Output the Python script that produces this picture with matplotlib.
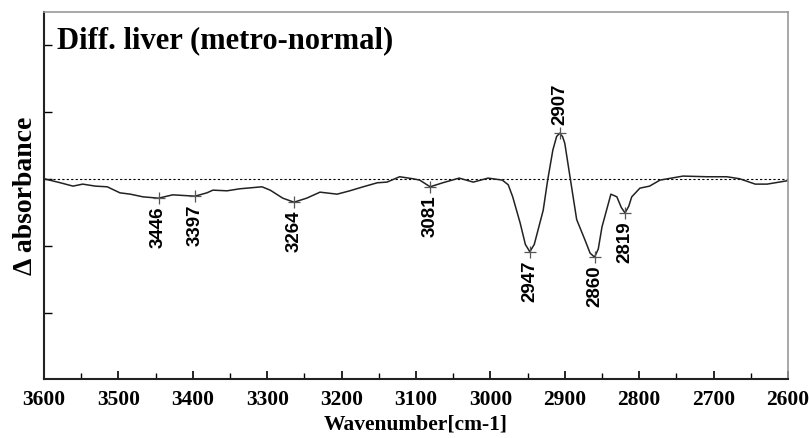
import numpy as np
import matplotlib.pyplot as plt

# spectrum (wavenumber, delta absorbance)
wavenumber = [3600, 3578, 3561, 3548, 3531, 3515, 3498, 3484, 3467, 3446,
              3427, 3397, 3381, 3373, 3354, 3337, 3307, 3296, 3279, 3264,
              3247, 3229, 3206, 3189, 3171, 3152, 3139, 3122, 3104, 3095,
              3081, 3064, 3042, 3023, 3003, 2984, 2976, 2970, 2960, 2953,
              2947, 2941, 2937, 2929, 2923, 2916, 2911, 2907, 2903, 2900,
              2893, 2884, 2873, 2866, 2860, 2855, 2850, 2838, 2830, 2824,
              2819, 2814, 2810, 2799, 2786, 2772, 2741, 2709, 2682, 2665,
              2644, 2628, 2601]
absorbance = [0.01, -0.05, -0.10, -0.07, -0.10, -0.11, -0.20, -0.22, -0.26, -0.28,
              -0.23, -0.25, -0.20, -0.16, -0.17, -0.14, -0.11, -0.16, -0.28, -0.34,
              -0.28, -0.19, -0.22, -0.17, -0.11, -0.05, -0.04, 0.04, 0.01, -0.01,
              -0.11, -0.05, 0.02, -0.04, 0.02, -0.01, -0.08, -0.26, -0.65, -0.97,
              -1.08, -0.97, -0.80, -0.46, -0.01, 0.44, 0.64, 0.69, 0.64, 0.54,
              0.04, -0.60, -0.90, -1.10, -1.16, -1.04, -0.71, -0.22, -0.26, -0.42,
              -0.50, -0.40, -0.26, -0.13, -0.10, -0.01, 0.05, 0.04, 0.04, 0.01,
              -0.07, -0.07, -0.02]

peak_wn = [3446, 3397, 3264, 3081, 2947, 2907, 2860, 2819]
peak_val = [-0.28, -0.25, -0.34, -0.11, -1.08, 0.69, -1.16, -0.50]

serif = 'Liberation Serif'

fig = plt.figure(figsize=(8.09, 4.38), dpi=100)
ax = fig.add_axes([0.0544, 0.1347, 0.9196, 0.8379])

ax.axhline(0, color='black', lw=0.8, ls=(0, (2, 2)))
ax.plot(wavenumber, absorbance, color='#222222', lw=1.1)

# peak markers and labels
ax.plot(peak_wn, peak_val, ls='none', marker='+', ms=8, mew=0.9, color='#555555')
for wn, v in zip(peak_wn, peak_val):
    up = v > 0
    ax.annotate(str(wn), (wn, v), xytext=(0, 6 if up else -6),
                textcoords='offset points', rotation=90,
                ha='center', va='bottom' if up else 'top',
                fontsize=13.5, fontweight='bold',
                family=['Liberation Sans Narrow', 'Liberation Sans'])

ax.set_xlim(3600, 2600)
ax.set_ylim(-2.98, 2.5)
ax.set_xticks(np.arange(3600, 2599, -100))
ax.set_xticks(np.arange(3550, 2600, -100), minor=True)
ax.set_yticks([-2, -1, 0, 1, 2])
ax.set_yticklabels([])
ax.tick_params(axis='x', which='major', direction='in', length=6, width=1.2, pad=8)
ax.tick_params(axis='x', which='minor', direction='in', length=4, width=1.0)
ax.tick_params(axis='y', direction='in', length=6, width=1.0)
for lab in ax.get_xticklabels():
    lab.set_family(serif)
    lab.set_fontweight('bold')
    lab.set_fontsize(15.5)

for side in ['left', 'bottom']:
    ax.spines[side].set_linewidth(1.5)
    ax.spines[side].set_color('#222222')
for side in ['top', 'right']:
    ax.spines[side].set_linewidth(1.2)
    ax.spines[side].set_color('#999999')

ax.set_xlabel('Wavenumber[cm-1]', family=serif, fontweight='bold', fontsize=15.5, labelpad=3)
ax.set_ylabel('Δ absorbance', family=serif, fontweight='bold', fontsize=20, labelpad=1)

ax.text(0.017, 0.96, 'Diff. liver (metro-normal)', transform=ax.transAxes,
        family=serif, fontweight='bold', fontsize=22, va='top', ha='left')

fig.savefig('out.png', dpi=100)
